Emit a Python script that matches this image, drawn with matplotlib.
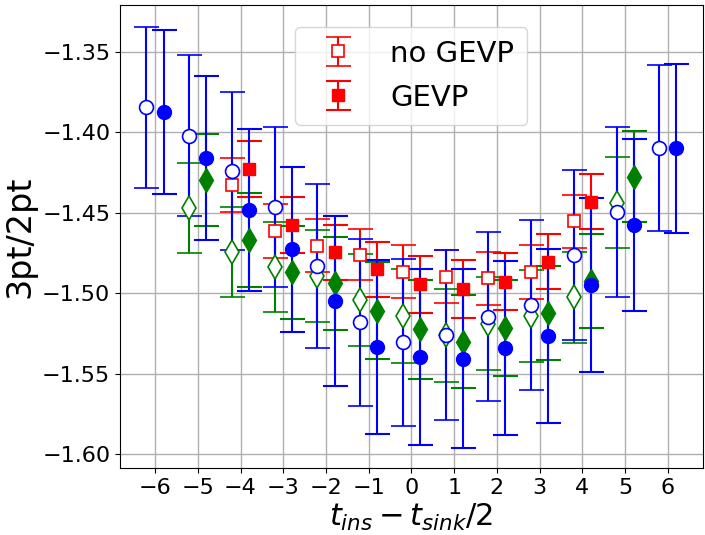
import matplotlib
matplotlib.use("Agg")
import matplotlib.pyplot as plt
import numpy as np

t_blue = [-6, -5, -4, -3, -2, -1, 0, 1, 2, 3, 4, 5, 6]
blue_open = [-1.3844, -1.4022, -1.4240, -1.4464, -1.4829, -1.5181, -1.5305,
             -1.5260, -1.5146, -1.5073, -1.4762, -1.4497, -1.4095]
blue_open_err = [0.050, 0.050, 0.049, 0.0495, 0.051, 0.052, 0.052,
                 0.053, 0.0527, 0.053, 0.053, 0.0528, 0.0516]
blue_fill = [-1.3875, -1.4157, -1.4483, -1.4727, -1.5050, -1.5335, -1.5395,
             -1.5407, -1.5339, -1.5264, -1.4949, -1.4576, -1.4099]
blue_fill_err = [0.051, 0.051, 0.0505, 0.0514, 0.0527, 0.054, 0.0547,
                 0.0555, 0.054, 0.054, 0.054, 0.0534, 0.0525]

t_green = [-5, -4, -3, -2, -1, 0, 1, 2, 3, 4, 5]
green_open = [-1.4468, -1.4746, -1.4839, -1.4891, -1.5042, -1.5142,
              -1.5262, -1.5190, -1.5142, -1.5026, -1.4437]
green_open_err = [0.028, 0.028, 0.028, 0.0287, 0.0288, 0.029,
                  0.0288, 0.029, 0.0288, 0.0285, 0.0283]
green_fill = [-1.4298, -1.4669, -1.4870, -1.4938, -1.5109, -1.5225,
              -1.5302, -1.5218, -1.5125, -1.4924, -1.4275]
green_fill_err = [0.0285, 0.029, 0.029, 0.029, 0.030, 0.0306,
                  0.029, 0.0298, 0.0293, 0.029, 0.0285]

t_red = [-4, -3, -2, -1, 0, 1, 2, 3, 4]
red_open = [-1.4325, -1.4615, -1.4704, -1.4760, -1.4868, -1.4897,
            -1.4907, -1.4870, -1.4553]
red_open_err = [0.0168, 0.0167, 0.0163, 0.0158, 0.0165, 0.0166,
                0.0166, 0.0168, 0.0165]
red_fill = [-1.4226, -1.4576, -1.4746, -1.4851, -1.4945, -1.4976,
            -1.4928, -1.4804, -1.4431]
red_fill_err = [0.0173, 0.0176, 0.0173, 0.0172, 0.0178, 0.018,
                0.0177, 0.0171, 0.017]

xticks = [-6, -5, -4, -3, -2, -1, 0, 1, 2, 3, 4, 5, 6]
shift = 0.2

fig = plt.figure(figsize=(7.05, 5.35), dpi=100)
ax = fig.add_axes([0.1702, 0.1252, 0.8268, 0.8655])

common = dict(capsize=9, elinewidth=1.5, capthick=1.5, linestyle='none')

def sh(t, d):
    return np.asarray(t, dtype=float) + d

ax.errorbar(sh(t_green, -shift), green_open, yerr=green_open_err, fmt='d',
            color='green', mfc='white', mec='green', ms=12, mew=1.2, **common)
ax.errorbar(sh(t_green, shift), green_fill, yerr=green_fill_err, fmt='d',
            color='green', mfc='green', mec='green', ms=12, **common)
ax.errorbar(sh(t_red, -shift), red_open, yerr=red_open_err, fmt='s',
            color='red', mfc='white', mec='red', ms=9, mew=1.2,
            label='no GEVP', **common)
ax.errorbar(sh(t_red, shift), red_fill, yerr=red_fill_err, fmt='s',
            color='red', mfc='red', mec='red', ms=9,
            label='GEVP', **common)
ax.errorbar(sh(t_blue, -shift), blue_open, yerr=blue_open_err, fmt='o',
            color='blue', mfc='white', mec='blue', ms=10, mew=1.2, **common)
ax.errorbar(sh(t_blue, shift), blue_fill, yerr=blue_fill_err, fmt='o',
            color='blue', mfc='blue', mec='blue', ms=10, **common)

ax.set_xticks(xticks)
ax.set_xlim(-6.82, 6.82)
ax.set_ylim(-1.6087, -1.3208)
ax.set_yticks([-1.60, -1.55, -1.50, -1.45, -1.40, -1.35])
ax.tick_params(labelsize=16)
ax.grid(True, color='#b0b0b0', linewidth=1)
ax.set_axisbelow(True)
ax.set_xlabel(r'$t_{ins} - t_{sink}/2$', fontsize=22, labelpad=3)
ax.set_ylabel('3pt/2pt', fontsize=24)
ax.legend(loc='upper center', fontsize=21, borderpad=0.45,
          handlelength=2.0, labelspacing=0.55, bbox_to_anchor=(0.5, 0.985))

fig.savefig('out.png', dpi=100)
